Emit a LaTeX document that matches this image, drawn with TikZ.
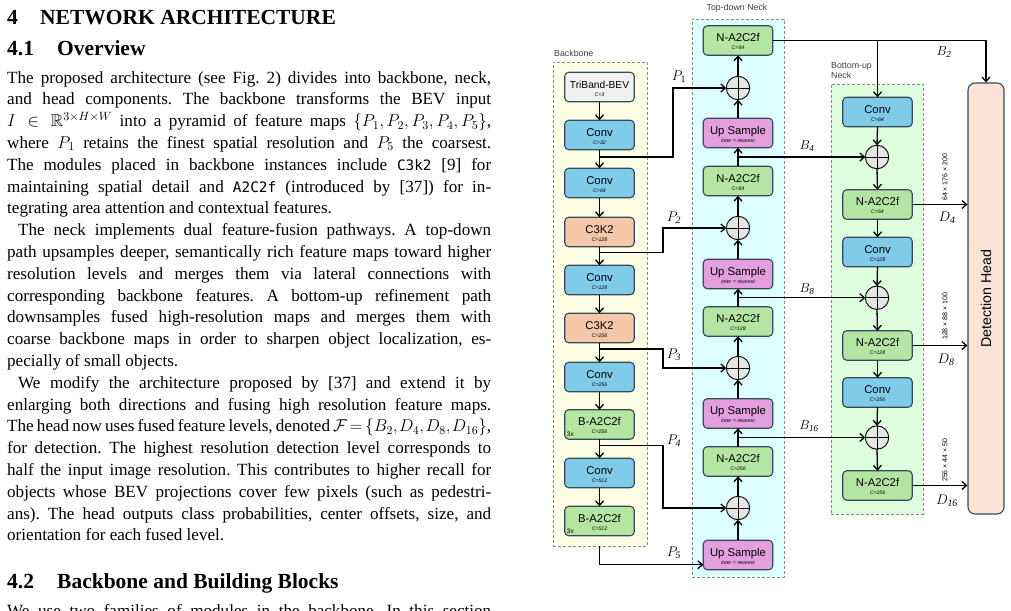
\documentclass[tikz,border=0pt]{standalone}
\usepackage{fix-cm}
\usepackage{amssymb}
\usepackage{fontspec}
\setmainfont{Liberation Serif}
\setsansfont{Liberation Sans}
\setmonofont{DejaVu Sans Mono}[Scale=0.84]
\usetikzlibrary{arrows.meta,calc}
\definecolor{bxline}{HTML}{34495A}
\definecolor{cgray}{HTML}{F0F0F0}
\definecolor{cblue}{HTML}{80CAEA}
\definecolor{csalmon}{HTML}{F5C7AA}
\definecolor{cgreen}{HTML}{B5E5A3}
\definecolor{cpink}{HTML}{E4A0DE}
\definecolor{chead}{HTML}{FBE3D6}
\definecolor{fyellow}{HTML}{FFFFE6}
\definecolor{fcyan}{HTML}{DDFFFF}
\definecolor{fgreen}{HTML}{DEFEDE}
\definecolor{framegray}{HTML}{8A8A8A}
\definecolor{circfill}{HTML}{E6E6E6}
\newcommand\bodyf{\fontsize{17.1}{21.8}\selectfont\frenchspacing}
\newcommand\jl[1]{\makebox[484pt][s]{#1}}
\newcommand\mkblk[6]{%
  \node[blk,fill=#4] (#1) at (#2,#3) {};
  \node[maint] (#1m) at ($(#1.center)+(0,1.2)$) {#5};
  \node[subt] (#1s) at ($(#1.center)+(0,9)$) {#6};}
\tikzset{
  blk/.style={draw=bxline, line width=1.1pt, rounded corners=4pt, minimum width=69.5pt, minimum height=29.5pt, inner sep=0pt, outer sep=0pt},
  regionbox/.style={draw=framegray, dash pattern=on 3pt off 2pt, line width=0.9pt, inner sep=0pt, outer sep=0pt},
  maint/.style={anchor=base, inner sep=0pt, font=\sffamily\fontsize{11.3}{13}\selectfont},
  subt/.style={anchor=base, inner sep=0pt, font=\sffamily\itshape\fontsize{5.2}{6}\selectfont},
  sumc/.style={circle, draw=black, line width=0.9pt, fill=circfill, minimum size=23.4pt, inner sep=0pt, outer sep=0pt,
    path picture={\draw[line width=0.8pt] (path picture bounding box.north) -- (path picture bounding box.south)
      (path picture bounding box.west) -- (path picture bounding box.east);}},
  arr/.style={draw=black, line width=1.3pt, -{Straight Barb[length=4.5pt,width=8pt]}},
  ln/.style={anchor=base west, inner sep=0pt, font=\bodyf},
  hd/.style={anchor=base west, inner sep=0pt, font=\bfseries\fontsize{21.5}{25}\selectfont},
  rlab/.style={inner sep=0pt, text=black!75, font=\sffamily\fontsize{8.8}{10}\selectfont},
  dimlab/.style={rotate=90, anchor=west, inner sep=0pt, font=\sffamily\fontsize{7}{8}\selectfont},
  mlab/.style={inner sep=0pt, font=\fontsize{14}{16}\selectfont},
  threex/.style={anchor=base west, inner sep=0pt, font=\sffamily\fontsize{6.5}{7}\selectfont},
}
\begin{document}
\begin{tikzpicture}[x=1pt,y=-1pt]
\useasboundingbox (0,0) rectangle (1011,610);
\clip (0,0) rectangle (1011,610);

% ---------------- text column ----------------
\node[hd] (h1n) at (7,24.3) {4};
\node[hd] (h1t) at (40,24.3) {NETWORK ARCHITECTURE};
\node[hd] (h2n) at (7,56) {4.1};
\node[hd] (h2t) at (57,56) {Overview};

\node[ln] (l1) at (7,83) {\jl{The proposed architecture (see Fig. 2) divides into backbone, neck,}};
\node[ln] (l2) at (7,104.8) {\jl{and head components. The backbone transforms the BEV input}};
\node[ln] (l3) at (7,126.6) {\jl{$I\in\mathbb{R}^{3\times H\times W}$ into a pyramid of feature maps $\{P_1,P_2,P_3,P_4,P_5\}$,}};
\node[ln] (l4) at (7,148.4) {\jl{where $P_1$ retains the finest spatial resolution and $P_5$ the coarsest.}};
\node[ln] (l5) at (7,170.2) {\jl{The modules placed in backbone instances include \texttt{C3k2} [9] for}};
\node[ln] (l6) at (7,192) {\jl{maintaining spatial detail and \texttt{A2C2f} (introduced by [37]) for in-}};
\node[ln] (l7) at (7,213.8) {tegrating area attention and contextual features.};
\node[ln] (l8) at (7,235.6) {\jl{\hspace*{11pt}The neck implements dual feature-fusion pathways. A top-down}};
\node[ln] (l9) at (7,257.4) {\jl{path upsamples deeper, semantically rich feature maps toward higher}};
\node[ln] (l10) at (7,279.2) {\jl{resolution levels and merges them via lateral connections with}};
\node[ln] (l11) at (7,301) {\jl{corresponding backbone features. A bottom-up refinement path}};
\node[ln] (l12) at (7,322.8) {\jl{downsamples fused high-resolution maps and merges them with}};
\node[ln] (l13) at (7,344.6) {\jl{coarse backbone maps in order to sharpen object localization, es-}};
\node[ln] (l14) at (7,366.4) {pecially of small objects.};
\node[ln] (l15) at (7,388.2) {\jl{\hspace*{11pt}We modify the architecture proposed by [37] and extend it by}};
\node[ln] (l16) at (7,410) {\jl{enlarging both directions and fusing high resolution feature maps.}};
\node[ln] (l17) at (7,431.8) {\thickmuskip=3mu\thinmuskip=1.5mu\jl{The head now uses fused feature levels, denoted $\mathcal{F}=\{B_2,D_4,D_8,D_{16}\}$,}};
\node[ln] (l18) at (7,453.6) {\jl{for detection. The highest resolution detection level corresponds to}};
\node[ln] (l19) at (7,475.4) {\jl{half the input image resolution. This contributes to higher recall for}};
\node[ln] (l20) at (7,497.2) {\jl{objects whose BEV projections cover few pixels (such as pedestri-}};
\node[ln] (l21) at (7,519) {\jl{ans). The head outputs class probabilities, center offsets, size, and}};
\node[ln] (l22) at (7,540.8) {orientation for each fused level.};

\node[hd] (h3n) at (7,588) {4.2};
\node[hd] (h3t) at (57,588) {Backbone and Building Blocks};
\node[ln] (l23) at (7,616) {\jl{We use two families of modules in the backbone. In this section}};

% ---------------- regions ----------------
\node[regionbox, fill=fyellow, minimum width=94pt, minimum height=484pt] (bbf) at (600,304) {};
\node[regionbox, fill=fcyan, minimum width=92pt, minimum height=558pt] (tdf) at (738,298) {};
\node[regionbox, fill=fgreen, minimum width=92pt, minimum height=430pt] (buf) at (877,299) {};
\node[rlab, anchor=base west] (bbl) at (554,56.5) {Backbone};
\node[rlab, anchor=base] (tdl) at (737,11) {Top-down Neck};
\node[rlab, anchor=base west] (bul1) at (831,68.5) {Bottom-up};
\node[rlab, anchor=base west] (bul2) at (831,78) {Neck};

% ---------------- backbone ----------------
\mkblk{bb1}{599.5}{87}{cgray}{{\fontsize{10.2}{12}\selectfont TriBand-BEV}}{C=3}
\mkblk{bb2}{599.5}{135}{cblue}{Conv}{C=32}
\mkblk{bb3}{599.5}{183}{cblue}{Conv}{C=64}
\mkblk{bb4}{599.5}{232}{csalmon}{C3K2}{C=128}
\mkblk{bb5}{599.5}{280}{cblue}{Conv}{C=128}
\mkblk{bb6}{599.5}{328}{csalmon}{C3K2}{C=256}
\mkblk{bb7}{599.5}{377}{cblue}{Conv}{C=256}
\mkblk{bb8}{599.5}{424.5}{cgreen}{B-A2C2f}{C=256}
\mkblk{bb9}{599.5}{473}{cblue}{Conv}{C=512}
\mkblk{bb10}{599.5}{521}{cgreen}{B-A2C2f}{C=512}
\node[threex] (bb8x) at ($(bb8.south west)+(2,-2.5)$) {3x};
\node[threex] (bb10x) at ($(bb10.south west)+(2,-2.5)$) {3x};

\foreach \a/\b in {bb1/bb2,bb2/bb3,bb3/bb4,bb4/bb5,bb5/bb6,bb6/bb7,bb7/bb8,bb8/bb9,bb9/bb10}
  \draw[arr] (\a.south) -- (\b.north);

% ---------------- top-down neck ----------------
\mkblk{tn1}{738}{40.5}{cgreen}{N-A2C2f}{C=64}
\node[sumc] (tc1) at (738,88) {};
\mkblk{tu1}{738}{133}{cpink}{Up Sample}{inter = nearest}
\mkblk{tn2}{738}{181}{cgreen}{N-A2C2f}{C=64}
\node[sumc] (tc2) at (738,228) {};
\mkblk{tu2}{738}{274}{cpink}{Up Sample}{inter = nearest}
\mkblk{tn3}{738}{321.5}{cgreen}{N-A2C2f}{C=128}
\node[sumc] (tc3) at (738,368) {};
\mkblk{tu3}{738}{413.5}{cpink}{Up Sample}{inter = nearest}
\mkblk{tn4}{738}{461.5}{cgreen}{N-A2C2f}{C=256}
\node[sumc] (tc4) at (738,508) {};
\mkblk{tu4}{738}{555}{cpink}{Up Sample}{inter = nearest}

\foreach \a/\b in {tu4/tc4,tc4/tn4,tn4/tu3,tu3/tc3,tc3/tn3,tn3/tu2,tu2/tc2,tc2/tn2,tn2/tu1,tu1/tc1,tc1/tn1}
  \draw[arr] (\a.north) -- (\b.south);

% lateral P connections
\coordinate (colA) at (673,0);
\coordinate (colB) at (663,0);
\coordinate (p1t) at ($(bb2.south)!0.39!(bb3.north)$);
\coordinate (p2t) at ($(bb4.south)!0.3!(bb5.north)$);
\coordinate (p3t) at ($(bb6.south)!0.32!(bb7.north)$);
\coordinate (p4t) at ($(bb8.south)!0.33!(bb9.north)$);
\draw[arr] (p1t) -- (p1t -| colA) |- (tc1.west);
\draw[arr] (p2t) -- (p2t -| colB) |- (tc2.west);
\draw[arr] (p3t) -- (p3t -| colB) |- (tc3.west);
\draw[arr] (p4t) -- (p4t -| colB) |- (tc4.west);
\coordinate (p5e) at ($(tu4.south west)+(0,-5)$);
\draw[arr] (bbf.south -| bb10.south) |- (p5e);

\node[mlab] (lP1) at (679,77) {$P_1$};
\node[mlab] (lP2) at (674,218) {$P_{\mathit{2}}$};
\node[mlab] (lP3) at (674,355) {$P_{\mathit{3}}$};
\node[mlab] (lP4) at (674,441) {$P_{\mathit{4}}$};
\node[mlab] (lP5) at (674,553) {$P_{\mathit{5}}$};

% ---------------- bottom-up neck ----------------
\coordinate (bux) at (877,0);
\coordinate (b4t) at ($(tn2.north)!0.5!(tu1.south)$);
\coordinate (b8t) at ($(tn3.north)!0.5!(tu2.south)$);
\coordinate (b16t) at ($(tn4.north)!0.5!(tu3.south)$);

\mkblk{bc1}{877.5}{112}{cblue}{Conv}{C=64}
\node[sumc] (bs1) at (b4t -| bux) {};
\mkblk{bn1}{877.5}{204.5}{cgreen}{N-A2C2f}{C=64}
\mkblk{bc2}{877.5}{252}{cblue}{Conv}{C=128}
\node[sumc] (bs2) at (b8t -| bux) {};
\mkblk{bn2}{877.5}{345.5}{cgreen}{N-A2C2f}{C=128}
\mkblk{bc3}{877.5}{392.5}{cblue}{Conv}{C=256}
\node[sumc] (bs3) at (b16t -| bux) {};
\mkblk{bn3}{877.5}{485.5}{cgreen}{N-A2C2f}{C=256}

\foreach \a/\b in {bc1/bs1,bs1/bn1,bn1/bc2,bc2/bs2,bs2/bn2,bn2/bc3,bc3/bs3,bs3/bn3}
  \draw[arr] (\a.south) -- (\b.north);

\draw[arr] (b4t) -- (bs1.west);
\draw[arr] (b8t) -- (bs2.west);
\draw[arr] (b16t) -- (bs3.west);
\node[mlab, font=\fontsize{13}{15}\selectfont] (lB4) at (807,146) {$B_{\mathit{4}}$};
\node[mlab, font=\fontsize{13}{15}\selectfont] (lB8) at (807,289) {$B_{\mathit{8}}$};
\node[mlab, font=\fontsize{13}{15}\selectfont] (lB16) at (809,426) {$B_{\mathit{16}}$};

% ---------------- detection head ----------------
\node[draw=bxline, fill=chead, line width=1.1pt, rounded corners=7pt, minimum width=36pt, minimum height=431pt, inner sep=0pt] (head) at (986,298.5) {};
\node[rotate=90, inner sep=0pt, font=\sffamily\fontsize{14.2}{16}\selectfont] (headt) at (head.center) {Detection Head};

\draw[arr] (tn1.east) -| (head.north);
\draw[arr] (tn1.east -| bc1.north) -- (bc1.north);
\node[mlab, font=\fontsize{13}{15}\selectfont] (lB2) at (944,52) {$B_{\mathit{2}}$};

\draw[arr] (bn1.east) -- (bn1.east -| head.west);
\draw[arr] (bn2.east) -- (bn2.east -| head.west);
\draw[arr] (bn3.east) -- (bn3.east -| head.west);
\node[dimlab] (d4dim) at (945,201) {64 × 176 × 200};
\node[dimlab] (d8dim) at (945,340) {128 × 88 × 100};
\node[dimlab] (d16dim) at (945,482) {256 × 44 × 50};
\node[mlab] (lD4) at (947,218) {$D_{\mathit{4}}$};
\node[mlab] (lD8) at (946,360) {$D_{\mathit{8}}$};
\node[mlab] (lD16) at (947,501) {$D_{\mathit{16}}$};
\end{tikzpicture}
\end{document}
